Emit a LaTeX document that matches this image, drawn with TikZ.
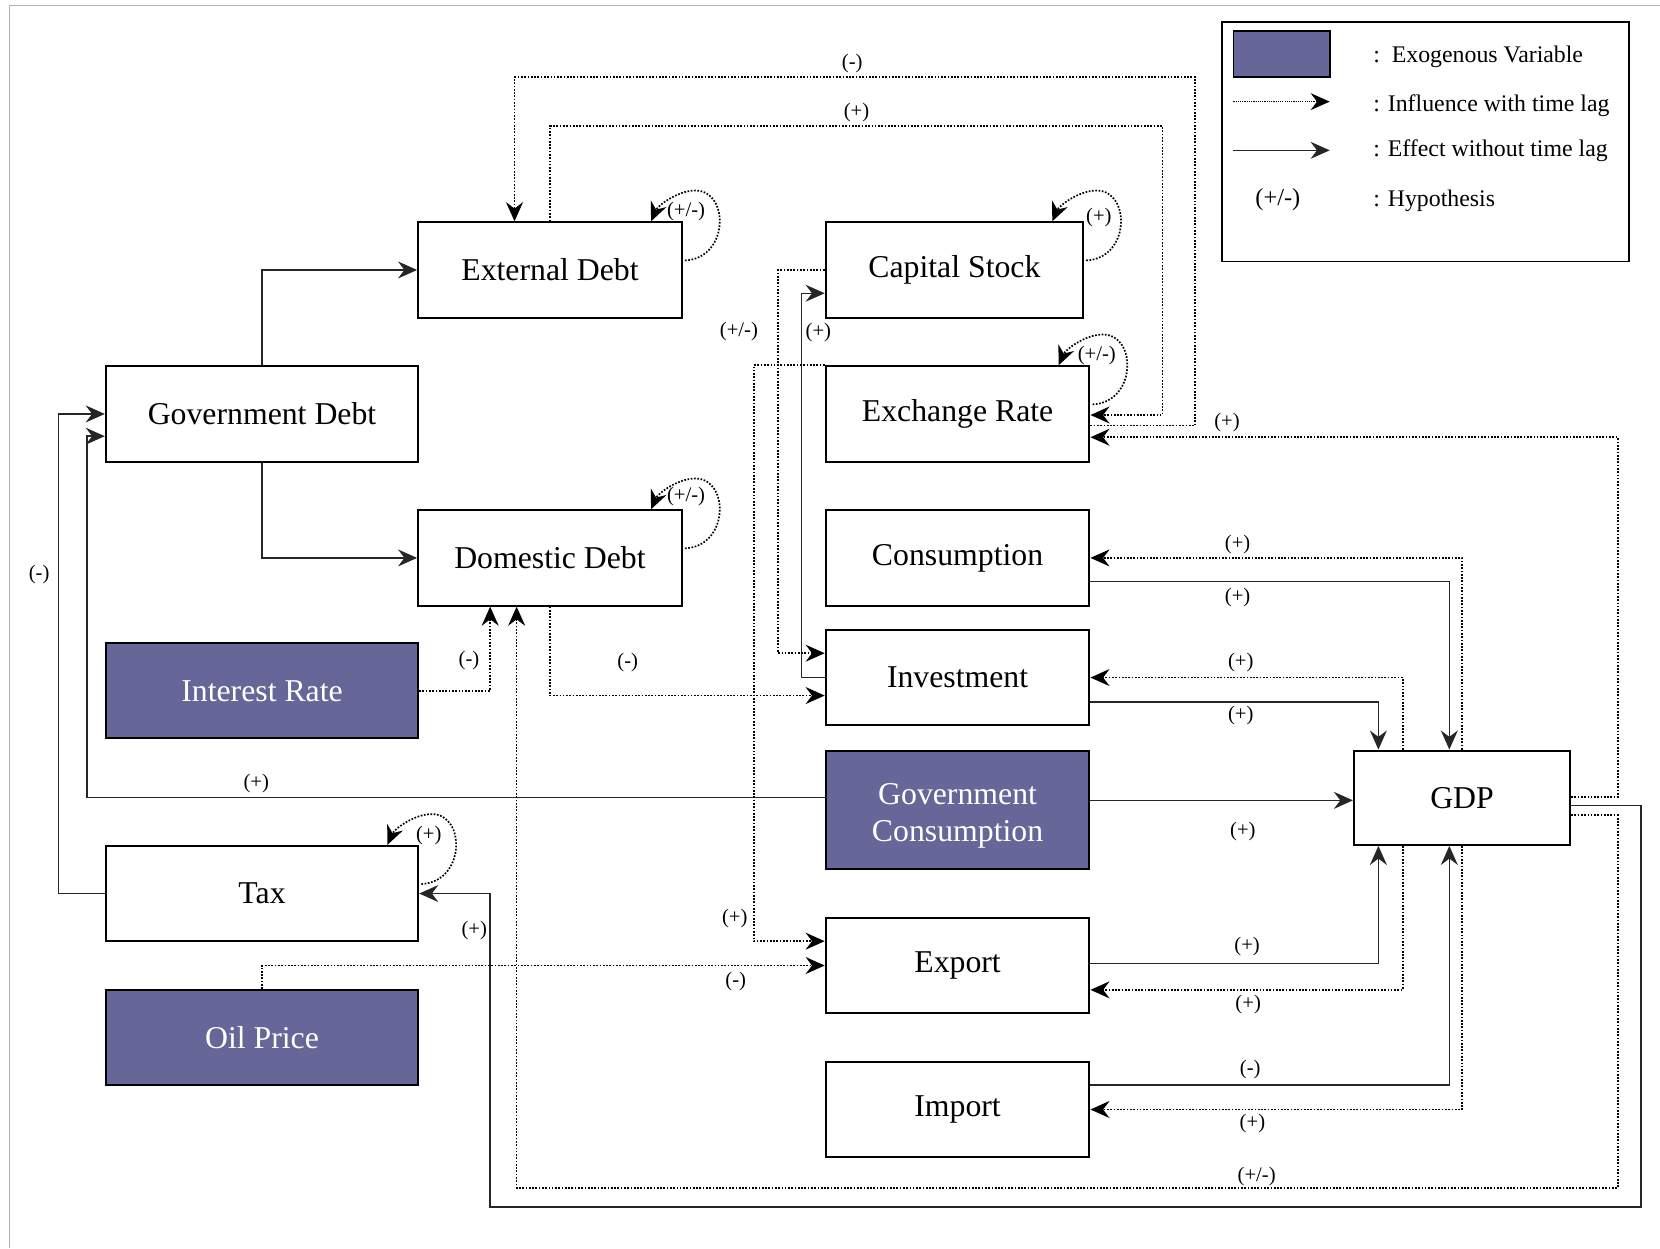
\documentclass[tikz,border=0pt]{standalone}
\usepackage{fontspec}
\setmainfont{Liberation Serif}
\usetikzlibrary{arrows.meta,calc}
\definecolor{exo}{RGB}{102,102,153}
\newcommand{\loopat}[1]{%
  \draw[lagline] ($(#1.north east)+(2,37)$) .. controls ($(#1.north east)+(44,35)$) and ($(#1.north east)+(44,-29)$) .. ($(#1.north east)+(12,-29)$) .. controls ($(#1.north east)+(-6,-29)$) and ($(#1.north east)+(-24,-14)$) .. ($(#1.north east)+(-30,0)$);}
\begin{document}
\begin{tikzpicture}[x=1pt,y=-1pt,
 box/.style={draw=black,line width=2pt,inner sep=0pt,minimum height=90pt,font=\fontsize{30}{35}\selectfont,align=center},
 exbox/.style={box,fill=exo,text=white,line width=1.8pt},
 effline/.style={draw=black!85,line width=1.3pt,-{Stealth[length=18pt,width=16pt,inset=6pt]}},
 lagline/.style={draw=black,line width=1.6pt,dash pattern=on 1.6pt off 1.5pt,-{Stealth[length=18pt,width=16pt,inset=6pt]}},
 lbl/.style={font=\fontsize{19.5}{22}\selectfont,inner sep=0pt},
 legtxt/.style={font=\fontsize{22.5}{26}\selectfont,anchor=west,inner sep=0pt}]
\useasboundingbox (0,0) rectangle (1568,1179);
\draw[gray!60,line width=0.8pt] (9,1179) -- (9,5) -- (1568,5);

% nodes
\node[box,minimum width=249pt] (ext) at (519.5,255) {External Debt};
\node[box,minimum width=295pt] (gov) at (247.5,391) {Government Debt};
\node[box,minimum width=249pt] (dom) at (519.5,527) {Domestic Debt};
\node[exbox,minimum width=295pt] (ir) at (247.5,652.5) {Interest Rate};
\node[box,minimum width=295pt] (tax) at (247.5,844) {Tax};
\node[exbox,minimum width=295pt] (oil) at (247.5,980) {Oil Price};
\node[box,minimum width=243pt] (cap) at (901.5,255) {Capital Stock};
\node[box,minimum width=249pt] (ex) at (904.5,391) {Exchange Rate};
\node[box,minimum width=249pt] (con) at (904.5,527) {Consumption};
\node[box,minimum width=249pt] (inv) at (904.5,640) {Investment};
\node[exbox,minimum width=249pt,minimum height=112pt] (gc) at (904.5,765) {\raisebox{-12pt}[0pt][0pt]{\begin{tabular}{@{}c@{}}Government\\Consumption\end{tabular}}};
\node[box,minimum width=249pt] (exp) at (904.5,912) {Export};
\node[box,minimum width=249pt] (imp) at (904.5,1048) {Import};
\node[box,minimum width=204pt,minimum height=89pt] (gdp) at (1381,753.5) {GDP};

% legend
\node[draw,line width=1.6pt,minimum width=385pt,minimum height=226pt,inner sep=0pt] (leg) at (1346.5,134) {};
\node[draw,line width=1.6pt,fill=exo,minimum width=91pt,minimum height=44pt,inner sep=0pt] (sw) at (1210.5,51) {};
\coordinate (la) at (1165,96); \coordinate (lb) at (1256,96);
\draw[lagline,line width=1.1pt,dash pattern=on 1.1pt off 1pt] (la) -- (lb);
\coordinate (ea) at (1165,142); \coordinate (eb) at (1256,142);
\draw[effline] (ea) -- (eb);
\node[lbl,font=\fontsize{23}{26}\selectfont] (hyp) at (1207,189) {(+/-)};
\node[legtxt] (t1) at (1297,54) {:\ \ Exogenous Variable};
\node[legtxt] (t2) at (1297,100) {: Influence with time lag};
\node[legtxt] (t3) at (1297,142) {: Effect without time lag};
\node[legtxt] (t4) at (1297,190) {: Hypothesis};

% effects without time lag
\draw[effline] (gov.north) |- (ext.west);
\draw[effline] (gov.south) |- (dom.west);
\draw[effline] (tax.west) -- (55,844) |- (gov.west);
\draw[effline] (gc.west |- 0,753) -| (82,412) -- (gov.west |- 0,412);
\draw[effline] (inv.west |- 0,640) -| (757,277) -- (cap.west |- 0,277);
\draw[effline] (con.east |- 0,549) -| (gdp.north -| 1369,0);
\draw[effline] (inv.east |- 0,663) -| (gdp.north -| 1302,0);
\draw[effline] (gc.east |- 0,756) -- (gdp.west |- 0,756);
\draw[effline] (exp.east |- 0,910) -| (gdp.south -| 1302,0);
\draw[effline] (imp.east |- 0,1025) -| (gdp.south -| 1369,0);
\draw[effline] (gdp.east |- 0,761) -| (1550,1140) -| (tax.east -| 463,0) -- (tax.east);

% influences with time lag
\draw[lagline] (ir.east) -| (dom.south -| 463,0);
\draw[lagline] (dom.south) |- (inv.west |- 0,657);
\draw[lagline] (gdp.east |- 0,770) -| (1528,1122) -| (dom.south -| 488,0);
\draw[lagline] (gdp.east |- 0,753) -| (1528,413) -- (ex.east |- 0,413);
\draw[lagline] (ext.north) |- (1098,119) |- (ex.east |- 0,392);
\draw[lagline] (ex.east |- 0,402) -| (1129,73) -| (ext.north -| 486,0);
\draw[lagline] (cap.west) -| (735,617) -- (inv.west |- 0,617);
\draw[lagline] (ex.north west) -| (712,889) -- (exp.west |- 0,889);
\draw[lagline] (oil.north) |- (exp.west |- 0,912);
\draw[lagline] (gdp.north -| 1381,0) |- (con.east);
\draw[lagline] (gdp.north -| 1325,0) |- (inv.east);
\draw[lagline] (gdp.south -| 1325,0) |- (exp.east |- 0,935);
\draw[lagline] (gdp.south -| 1381,0) |- (imp.east |- 0,1048);

% self loops
\loopat{ext}
\loopat{dom}
\loopat{cap}
\loopat{ex}
\loopat{tax}

% labels
\node[lbl] (l1) at (805,60) {(-)};
\node[lbl] (l2) at (809,106) {(+)};
\node[lbl] (l3) at (648,200) {(+/-)};
\node[lbl] (l4) at (1038,205) {(+)};
\node[lbl] (l5) at (698,313) {(+/-)};
\node[lbl] (l6) at (773,314) {(+)};
\node[lbl] (l7) at (1036,336) {(+/-)};
\node[lbl] (l8) at (1159,399) {(+)};
\node[lbl] (l9) at (648,469) {(+/-)};
\node[lbl] (l10) at (1169,514) {(+)};
\node[lbl] (l11) at (37,543) {(-)};
\node[lbl] (l12) at (1169,564) {(+)};
\node[lbl] (l13) at (443,624) {(-)};
\node[lbl] (l14) at (593,626) {(-)};
\node[lbl] (l15) at (1172,626) {(+)};
\node[lbl] (l16) at (1172,676) {(+)};
\node[lbl] (l17) at (242,740) {(+)};
\node[lbl] (l18) at (1174,785) {(+)};
\node[lbl] (l19) at (405,789) {(+)};
\node[lbl] (l20) at (694,868) {(+)};
\node[lbl] (l21) at (448,879) {(+)};
\node[lbl] (l22) at (1178,894) {(+)};
\node[lbl] (l23) at (695,927) {(-)};
\node[lbl] (l24) at (1179,949) {(+)};
\node[lbl] (l25) at (1181,1010) {(-)};
\node[lbl] (l26) at (1183,1061) {(+)};
\node[lbl] (l27) at (1187,1111) {(+/-)};
\end{tikzpicture}
\end{document}
